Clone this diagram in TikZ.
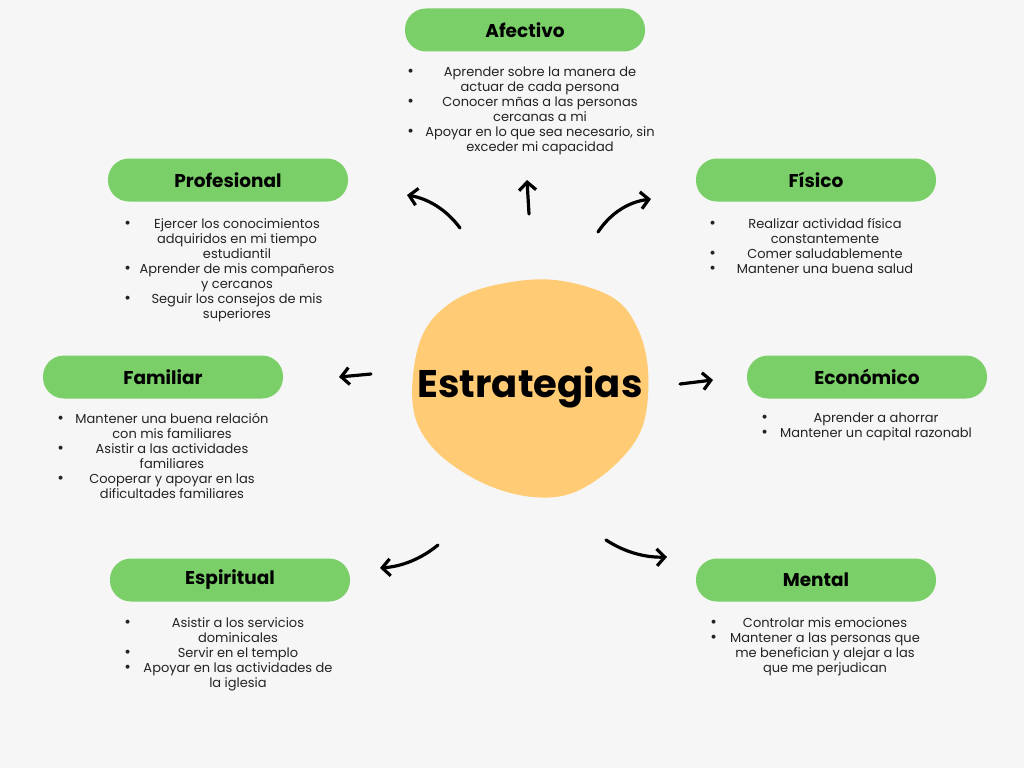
\documentclass[tikz,border=0pt]{standalone}
\usepackage{fontspec}
\setmainfont{Poppins}
\usetikzlibrary{arrows.meta}
\definecolor{paper}{RGB}{246,246,246}
\definecolor{leaf}{RGB}{122,207,104}
\definecolor{sand}{RGB}{255,203,116}
\definecolor{ink}{RGB}{35,35,35}
\newlength\bulgap
\newcommand{\bitem}[1]{\llap{{\fontsize{16}{15}\selectfont\textbullet}\hspace{1pt}}\makebox[2\bulgap]{#1}}
\newcommand{\bline}[1]{\makebox[2\bulgap]{#1}}

\begin{document}
\begin{tikzpicture}[x=1pt, y=-1pt,
	tag/.style={fill=leaf, rounded corners=21pt, minimum width=240pt, minimum height=43pt, inner sep=0pt, font=\fontsize{18.5}{20}\selectfont\bfseries},
	items/.style={anchor=north, align=center, inner sep=0pt, text=ink, font=\fontsize{13}{15}\selectfont, execute at begin node={\global\bulgap=#1\relax}},
	pointer/.style={line width=3.2pt, line cap=round, -{Straight Barb[length=8pt, width=17pt]}}]
	\fill[paper] (0,0) rectangle (1024,768);
	\useasboundingbox (0,0) rectangle (1024,768);
	% Centre
	\fill[sand] plot[smooth cycle, tension=0.6] coordinates {(555,280) (610,296) (636,325) (648,370) (643,425) (617,463) (575,492) (533,497) (485,484) (440,455) (416,420) (413,375) (425,330) (455,300) (500,284)};
	\node [font=\fontsize{38.5}{42}\selectfont\bfseries] (core) at (530,387) {Estrategias};
	% Place nodes
	\node [tag] (afectivo) at (525,30) {Afectivo};
	\node [items=125pt] (afectivo-list) at (540,66.5) {\bitem{Aprender sobre la manera de}\\ \bline{actuar de cada persona}\\ \bitem{Conocer mñas a las personas}\\ \bline{cercanas a mi}\\ \bitem{Apoyar en lo que sea necesario, sin}\\ \bline{exceder mi capacidad}};
	
	\node [tag] (profesional) at (228,180) {Profesional};
	\node [items=105pt] (profesional-list) at (237,218) {\bitem{Ejercer los conocimientos}\\ \bline{adquiridos en mi tiempo}\\ \bline{estudiantil}\\ \bitem{Aprender de mis compañeros}\\ \bline{y cercanos}\\ \bitem{Seguir los consejos de mis}\\ \bline{superiores}};
	
	\node [tag] (fisico) at (816,180) {Físico};
	\node [items=108pt] (fisico-list) at (825,218) {\bitem{Realizar actividad física}\\ \bline{constantemente}\\ \bitem{Comer saludablemente}\\ \bitem{Mantener una buena salud}};
	
	\node [tag] (familiar) at (163,377) {Familiar};
	\node [items=107pt] (familiar-list) at (172,413) {\bitem{Mantener una buena relación}\\ \bline{con mis familiares}\\ \bitem{Asistir a las actividades}\\ \bline{familiares}\\ \bitem{Cooperar y apoyar en las}\\ \bline{dificultades familiares}};
	
	\node [tag] (economico) at (867,377) {Económico};
	\node [items=107pt] (economico-list) at (876,413) {\bitem{Aprender a ahorrar}\\ \bitem{Mantener un capital razonabl}};
	
	\node [tag] (espiritual) at (230,580) {Espiritual};
	\node [items=106pt] (espiritual-list) at (238,617) {\bitem{Asistir a los servicios}\\ \bline{dominicales}\\ \bitem{Servir en el templo}\\ \bitem{Apoyar en las actividades de}\\ \bline{la iglesia}};
	
	\node [tag] (mental) at (816,580) {Mental};
	\node [items=107pt] (mental-list) at (825,617) {\bitem{Controlar mis emociones}\\ \bitem{Mantener a las personas que}\\ \bline{me benefician y alejar a las}\\ \bline{que me perjudican}};
	% Arrow ends
	\coordinate (p1) at (460,228); \coordinate (p2) at (407,195);
	\coordinate (a1) at (529,214); \coordinate (a2) at (527,180);
	\coordinate (f1) at (598,232); \coordinate (f2) at (651,199);
	\coordinate (m1) at (371,374); \coordinate (m2) at (339,377);
	\coordinate (e1) at (680,384); \coordinate (e2) at (713,380);
	\coordinate (s1) at (438,545); \coordinate (s2) at (380,568);
	\coordinate (n1) at (606,540); \coordinate (n2) at (667,557);
	\draw [pointer] (p1) .. controls (446.7,210) and (429,199) .. (p2);
	\draw [pointer] (a1) -- (a2);
	\draw [pointer] (f1) .. controls (610.7,213) and (628.3,202) .. (f2);
	\draw [pointer] (m1) -- (m2);
	\draw [pointer] (e1) -- (e2);
	\draw [pointer] (s1) .. controls (421.1,558.9) and (401.8,566.5) .. (s2);
	\draw [pointer] (n1) .. controls (624.5,552.1) and (644.9,557.7) .. (n2);
\end{tikzpicture}
\end{document}
